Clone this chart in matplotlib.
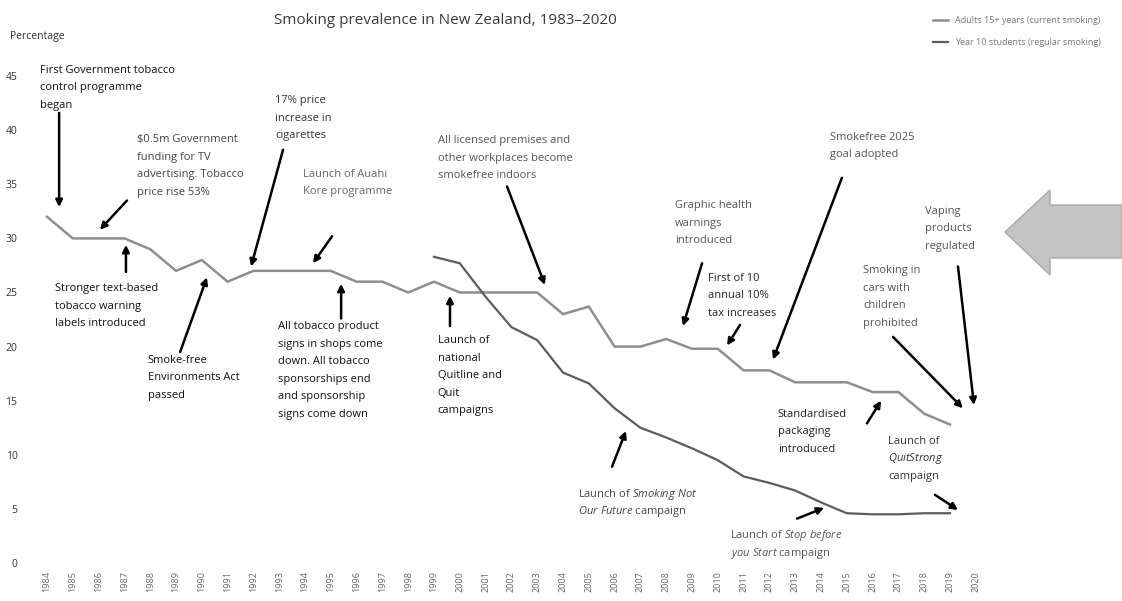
import matplotlib
matplotlib.use("Agg")
import matplotlib.pyplot as plt
from matplotlib.patches import Polygon

plt.rcParams['font.family'] = ['Open Sans', 'DejaVu Sans']
plt.rcParams['mathtext.fontset'] = 'custom'
plt.rcParams['mathtext.rm'] = 'Open Sans'
plt.rcParams['mathtext.it'] = 'Open Sans:italic'

# === DATA ===
years = list(range(1984, 2021))
adult_years = list(range(1984, 2020))
adults = [32, 30, 30, 30, 29, 27, 28, 26, 27, 27, 27, 27, 26, 26, 25, 26, 25, 25,
          25, 25, 23, 23.7, 20, 20, 20.7, 19.8, 19.8, 17.8, 17.8, 16.7, 16.7, 16.7,
          15.8, 15.8, 13.8, 12.8]
youth_years = list(range(1999, 2020))
youth = [28.3, 27.7, 24.6, 21.8, 20.6, 17.6, 16.6, 14.3, 12.5, 11.6, 10.6, 9.5,
         8.0, 7.4, 6.7, 5.6, 4.6, 4.5, 4.5, 4.6, 4.6]
series_labels = ["Adults 15+ years (current smoking)",
                 "Year 10 students (regular smoking)"]
yticks = [0, 5, 10, 15, 20, 25, 30, 35, 40, 45]

W, H = 1122, 601
fig = plt.figure(figsize=(W / 100, H / 100), dpi=100)
ax = fig.add_axes([34.1 / W, (H - 563) / H, 954.6 / W, 541 / H])

ax.plot(adult_years, adults, color="#8e8e8e", lw=1.8, label=series_labels[0])
ax.plot(youth_years, youth, color="#5c5c5c", lw=1.6, label=series_labels[1])

ax.set_xlim(1983.5, 2020.5)
ax.set_ylim(0, 50)
ax.set_xticks(years)
ax.set_xticklabels([str(y) for y in years], rotation=90, fontsize=6.5, color="#666666")
ax.set_yticks(yticks)
ax.set_yticklabels([str(v) for v in yticks], fontsize=7.5, color="#333333")
ax.tick_params(axis="both", length=0)
ax.tick_params(axis="x", pad=6)
ax.tick_params(axis="y", pad=12)
for s in ax.spines.values():
    s.set_visible(False)

# === ANNOTATIONS ===
# (lines, first baseline, arrow tail, arrow tip, colour)
notes = [
    (["First Government tobacco", "control programme", "began"], (1983.73, 45.3), (1984.47, 41.6), (1984.47, 32.9), "#111111"),
    (["\\$0.5m Government", "funding for TV", "advertising. Tobacco", "price rise 53%"], (1987.49, 38.9), (1987.1, 33.5), (1986.05, 30.8), "#444444"),
    (["17% price", "increase in", "cigarettes"], (1992.84, 42.5), (1993.15, 38.2), (1991.91, 27.4), "#333333"),
    (["Launch of Auahi", "Kore programme"], (1993.92, 35.7), (1995.05, 30.2), (1994.31, 27.7), "#666666"),
    (["Stronger text-based", "tobacco warning", "labels introduced"], (1984.31, 25.1), (1987.06, 26.9), (1987.06, 29.4), "#111111"),
    (["Smoke-free", "Environments Act", "passed"], (1987.91, 18.5), (1989.16, 19.5), (1990.2, 26.4), "#111111"),
    (["All tobacco product", "signs in shops come", "down. All tobacco", "sponsorships end",
      "and sponsorship", "signs come down"], (1992.95, 21.6), (1995.4, 22.6), (1995.4, 25.8), "#111111"),
    (["Launch of", "national", "Quitline and", "Quit", "campaigns"], (1999.15, 20.3), (1999.62, 21.9), (1999.62, 24.7), "#111111"),
    (["All licensed premises and", "other workplaces become", "smokefree indoors"], (1999.15, 38.8), (2001.83, 34.8), (2003.3, 25.7), "#555555"),
    (["Graphic health", "warnings", "introduced"], (2008.34, 32.8), (2009.39, 27.7), (2008.65, 21.9), "#555555"),
    (["First of 10", "annual 10%", "tax increases"], (2009.62, 26.1), (2010.86, 22.0), (2010.36, 20.1), "#222222"),
    (["Smokefree 2025", "goal adopted"], (2014.35, 39.1), (2014.81, 35.6), (2012.14, 18.8), "#555555"),
    (["Vaping", "products", "regulated"], (2018.03, 32.3), (2019.31, 27.4), (2019.93, 14.6), "#555555"),
    (["Smoking in", "cars with", "children", "prohibited"], (2015.63, 26.8), (2016.79, 20.9), (2019.5, 14.3), "#555555"),
    (["Standardised", "packaging", "introduced"], (2012.33, 13.5), (2015.78, 12.9), (2016.33, 15.0), "#222222"),
    (["Launch of", "$\\it{QuitStrong}$", "campaign"], (2016.6, 11.0), (2018.42, 6.3), (2019.31, 4.9), "#333333"),
    (["Launch of $\\it{Smoking\\ Not}$", "$\\it{Our\\ Future}$ campaign"], (2004.58, 6.1), (2005.9, 8.9), (2006.44, 12.2), "#444444"),
    (["Launch of $\\it{Stop\\ before}$", "$\\it{you\\ Start}$ campaign"], (2010.47, 2.3), (2013.07, 4.1), (2014.12, 5.1), "#555555"),
]
line_step = 17.5  # pixels between baselines
for lines, pos, tail, tip, col in notes:
    for i, line in enumerate(lines):
        ax.annotate(line, xy=pos, xytext=(0, -i * line_step), textcoords="offset pixels",
                    ha="left", va="baseline", fontsize=8, color=col)
    ax.annotate("", xy=tip, xytext=tail,
                arrowprops=dict(arrowstyle="-|>", color="black", lw=1.8,
                                mutation_scale=10, shrinkA=0, shrinkB=0))

# === TITLE / LABELS ===
fig.text(445 / W, 1 - 20 / H, "Smoking prevalence in New Zealand, 1983\u20132020",
         ha="center", va="center", fontsize=11, color="#3a3a3a")
fig.text(10 / W, 1 - 37 / H, "Percentage", ha="left", va="center", fontsize=7.5,
         color="#333333")
fig.legend(loc="upper left", bbox_to_anchor=(925 / W, 1 - 8 / H), frameon=False,
           fontsize=6.5, handlelength=1.6, labelspacing=1.4, labelcolor="#777777")

# big grey block arrow at the right
pts = [(1005, 232), (1050, 190), (1050, 205), (1122, 205), (1122, 258),
       (1050, 258), (1050, 275)]
fig.patches.append(Polygon([(x / W, 1 - y / H) for x, y in pts], closed=True,
                           transform=fig.transFigure, facecolor="#c4c4c4",
                           edgecolor="#a8a8a8", lw=1))

plt.savefig("out.png", dpi=100)
